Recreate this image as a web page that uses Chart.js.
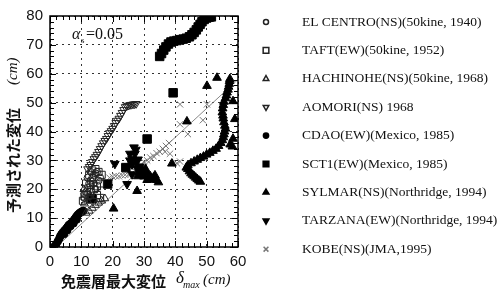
<!DOCTYPE html>
<html>
<head>
<meta charset="utf-8">
<script src="https://cdn.jsdelivr.net/npm/chart.js@4.4.0/dist/chart.umd.min.js"></script>
<style>
  html, body { margin: 0; padding: 0; background: #fff; }
</style>
</head>
<body>
<canvas id="chart" width="500" height="293"></canvas>
<script>
// 予測された変位 vs 免震層最大変位 (αs = 0.05)
const xTicks = [0, 10, 20, 30, 40, 50, 60];
const yTicks = [0, 10, 20, 30, 40, 50, 60, 70, 80];

const elCentro = [[11,17],[11.5,19],[12,20.5],[12.5,22],[13,23],[13.5,24],[14,25],[14.5,25.5],[15,26],[12,24],[13,26],[14,22],[15.5,23],[16,24],[11,18.5],[12.5,17.5],[14.5,20]];
const taft = [[10.5,16],[11,17.5],[12,18],[13,19],[14,20],[15,21],[16,22],[12.5,25],[13.5,26.5],[14.5,27],[15.5,26],[16.5,25],[11.5,22],[13,21.5],[15,18],[16,17]];
const hachinohe = [[11.5,11.8],[12.5,12.5],[13.5,13.5],[14.5,14.5],[15.5,15.3],[16.5,16],[17.5,16.8],[11,15],[12,16],[13,17.5],[10.8,20]];
const aomori = [[12,27],[12.5,27.8],[13,28.5],[13.5,29.5],[14,30.5],[14.5,31.2],[15,32],[15.5,33],[16,34],[16.5,35],[17,36],[17.5,36.8],[18,37.5],[18.5,38.5],[19,39.5],[19.5,40.2],[20,41],[20.5,42],[21,43],[21.5,43.8],[22,44.5],[22.5,45.5],[23,46.5],[23.5,47.5],[24,48.5],[24.5,48.8],[25,49],[25.5,49.2],[26,49.3],[26.5,49.4],[27,49.5],[27.5,49.6]];
const cdao = [[1.5,0.3],[2,1],[2.5,2],[3,3],[3.3,3.8],[3.7,4.5],[4.2,5.2],[4.7,5.8],[5.2,6.4],[5.6,7],[6,7.6],[6.5,8],[7,8.5],[7.4,9],[7.8,9.6],[8.2,10.2],[8.6,10.8],[9,11.3],[9.4,11.7],[9.8,12],[10.2,12.3],[10.6,12.5],[4.5,4.5],[5.5,5.8],[6.5,7.2],[7.5,8.2],[8.5,9.5]];
const sct1 = [[13.4,16.7],[18.4,21.8],[24.2,27.5],[31,37.4],[39.3,53.4],[35,66],[35.6,67],[36.3,68.2],[37,69.3],[37.8,70.3],[38.6,71],[39.5,71.3],[40.5,71.5],[41.5,71.8],[42.5,72],[43.5,72.3],[44.5,72.8],[45.3,73.5],[46,74.3],[46.7,75.2],[47.3,76.2],[47.9,77.1],[48.5,78],[49.2,78.8],[50,79.3],[50.8,79.6],[51.5,79.7]];
const sylmar = [[43.5,27.5],[44,27],[44.5,26.2],[45,25.5],[45.5,25],[46,24.5],[46.5,24],[47,23.5],[47.5,23],[48,22.6],[44,28.3],[45,29],[46,29.6],[47,30.2],[48,30.8],[49,31.3],[50,32],[51,32.6],[52,33.3],[53,34],[53.8,35],[54.5,36],[55,37],[55.3,38],[55.5,39],[55.7,40],[56,41],[55.8,42],[55.5,43.2],[55.3,44.5],[55.2,45.5],[55,46.6],[55.1,48],[55.3,49.2],[55.5,50.3],[56,51.5],[56.3,52.5],[56.5,53.5],[56.8,54.5],[57,55.5],[57.2,56.5],[57.3,57.5],[57.4,58.2],[53.3,58.6],[50.1,55.8],[43.7,43.5],[58.4,50.5],[59,44.3],[58.4,37.5],[58.2,34.8],[57.5,35.5],[38.9,28.9],[27.8,19.4],[20.3,13.3],[28,24.5],[29,25.2],[30,26],[30.5,27],[31,25.5],[32,24.5],[33,24],[34,23.2],[34.6,22.4],[31,23.2],[32.5,23.4],[29.5,26.6],[28.5,25.8],[33.5,24.8],[30,24.4]];
const tarzana = [[20.7,28.8],[24.6,21.8],[25.5,32.3],[26.2,30.6],[27.1,32.3],[27.4,33.7],[28.1,30.3],[26.2,28.6],[27.8,27.2],[24.9,27.9],[28.7,27.9],[26.2,25.2],[27.5,29.5],[25.5,30],[29,25.5],[26.8,34.5]];
const kobe = [[19,24],[20,24.3],[21,24.5],[22,24.5],[23,24.8],[24,25],[25,25],[26,25.5],[27,26.5],[28,27.5],[29,28.5],[30,29.5],[31,30],[32,31],[33,31.5],[34,32.5],[35,33],[36,34],[37,35],[38,36],[36.7,33],[38.3,32.3],[40.5,29],[41.5,29.6],[41.5,42.5],[41.5,49.4],[44,39.1],[48.8,43.9],[50.1,49.4]];
const fitLine = [[2,0],[60,58]];

const toXY = arr => arr.map(p => ({ x: p[0], y: p[1] }));

// r: 図中の大きさ, lr: 凡例の大きさ
const series = [
  { label: 'EL CENTRO(NS)(50kine, 1940)', data: elCentro, style: 'circle', r: 3.5, lr: 2.5, rot: 0, fill: false, color: '#222' },
  { label: 'TAFT(EW)(50kine, 1952)', data: taft, style: 'rect', r: 5, lr: 4, rot: 0, fill: false, color: '#222' },
  { label: 'HACHINOHE(NS)(50kine, 1968)', data: hachinohe, style: 'triangle', r: 4.5, lr: 3.2, rot: 0, fill: false, color: '#222' },
  { label: 'AOMORI(NS) 1968', data: aomori, style: 'triangle', r: 4.5, lr: 3.2, rot: 180, fill: false, color: '#222' },
  { label: 'CDAO(EW)(Mexico, 1985)', data: cdao, style: 'circle', r: 3.8, lr: 2.6, rot: 0, fill: true, color: '#000' },
  { label: 'SCT1(EW)(Mexico, 1985)', data: sct1, style: 'rect', r: 6, lr: 4, rot: 0, fill: true, color: '#000' },
  { label: 'SYLMAR(NS)(Northridge, 1994)', data: sylmar, style: 'triangle', r: 5, lr: 3.4, rot: 0, fill: true, color: '#000' },
  { label: 'TARZANA(EW)(Northridge, 1994)', data: tarzana, style: 'triangle', r: 5, lr: 3.4, rot: 180, fill: true, color: '#000' },
  { label: 'KOBE(NS)(JMA,1995)', data: kobe, style: 'crossRot', r: 4.5, lr: 3.4, rot: 0, fill: false, color: '#777' }
];

const datasets = series.map(s => ({
  type: 'scatter',
  label: s.label,
  data: toXY(s.data),
  pointStyle: s.style,
  pointRadius: s.r,
  pointRotation: s.rot,
  pointBorderWidth: 1,
  borderColor: s.color,
  backgroundColor: s.fill ? s.color : 'rgba(0,0,0,0)'
}));

datasets.push({
  type: 'line',
  label: '',
  data: toXY(fitLine),
  borderColor: '#888',
  borderWidth: 1,
  pointRadius: 0,
  order: 10
});

// 枠、補助目盛、軸タイトル、凡例を描く
const decor = {
  id: 'decor',
  afterDraw(chart) {
    const { ctx, chartArea: a, scales: { x, y } } = chart;
    ctx.save();

    // 補助目盛（内向き）
    ctx.strokeStyle = '#000';
    ctx.lineWidth = 1;
    ctx.beginPath();
    for (let v = 0; v <= 60; v += 2) {
      const px = Math.round(x.getPixelForValue(v)) + 0.5;
      const len = v % 10 === 0 ? 6 : 4;
      ctx.moveTo(px, a.bottom); ctx.lineTo(px, a.bottom - len);
      ctx.moveTo(px, a.top); ctx.lineTo(px, a.top + len);
    }
    for (let v = 0; v <= 80; v += 2) {
      const py = Math.round(y.getPixelForValue(v)) + 0.5;
      const len = v % 10 === 0 ? 6 : 4;
      ctx.moveTo(a.left, py); ctx.lineTo(a.left + len, py);
      ctx.moveTo(a.right, py); ctx.lineTo(a.right - len, py);
    }
    ctx.stroke();

    // 枠
    ctx.lineWidth = 1.5;
    ctx.strokeRect(a.left, a.top, a.right - a.left, a.bottom - a.top);

    // αs = 0.05
    ctx.fillStyle = '#111';
    ctx.textBaseline = 'middle';
    ctx.textAlign = 'left';
    ctx.font = 'italic 16px "Liberation Serif"';
    ctx.fillText('α', 72, 35);
    ctx.font = '9px "Liberation Serif"';
    ctx.fillText('s', 81, 41);
    ctx.font = '16px "Liberation Serif"';
    ctx.fillText('=0.05', 86, 35);

    // x軸タイトル
    ctx.font = 'bold 15px "Noto Sans CJK JP"';
    ctx.fillText('免震層最大変位', 61, 281);
    ctx.font = 'italic 17px "Liberation Serif"';
    ctx.fillText('δ', 176, 279);
    ctx.font = 'italic 10px "Liberation Serif"';
    ctx.fillText('max', 183, 285);
    ctx.font = 'italic 15px "Liberation Serif"';
    ctx.fillText('(cm)', 203, 280);

    // y軸タイトル
    ctx.save();
    ctx.translate(13, 213);
    ctx.rotate(-Math.PI / 2);
    ctx.font = 'bold 15px "Noto Sans CJK JP"';
    ctx.fillText('予測された変位', 0, 0);
    ctx.font = 'italic 15px "Liberation Serif"';
    ctx.fillText('(cm)', 128, 0);
    ctx.restore();

    // 凡例
    series.forEach((s, i) => {
      const ly = 22 + i * 28.4;
      ctx.strokeStyle = s.color;
      ctx.fillStyle = s.fill ? s.color : 'rgba(0,0,0,0)';
      Chart.helpers.drawPoint(ctx, { pointStyle: s.style, radius: s.lr, rotation: s.rot, borderWidth: 1 }, 266, ly);
      ctx.fillStyle = '#111';
      ctx.font = '13.5px "Liberation Serif"';
      ctx.fillText(s.label, 302, ly);
    });

    ctx.restore();
  }
};

new Chart(document.getElementById('chart'), {
  data: { datasets },
  options: {
    responsive: false,
    animation: false,
    devicePixelRatio: 1,
    layout: { padding: { left: 0, top: 12, right: 262, bottom: 0 } },
    plugins: { legend: { display: false }, tooltip: { enabled: false } },
    scales: {
      x: {
        type: 'linear', min: 0, max: 60,
        afterBuildTicks: s => { s.ticks = xTicks.map(v => ({ value: v })); },
        afterFit: s => { s.height = 46; },
        grid: { color: '#333', lineWidth: 1, drawTicks: false },
        border: { display: false, dash: [2, 4] },
        ticks: { color: '#111', padding: 6, font: { family: '"Liberation Sans", Arial', size: 15 } }
      },
      y: {
        type: 'linear', min: 0, max: 80,
        afterBuildTicks: s => { s.ticks = yTicks.map(v => ({ value: v })); },
        afterFit: s => { s.width = 50; },
        grid: { color: '#333', lineWidth: 1, drawTicks: false },
        border: { display: false, dash: [2, 4] },
        ticks: { color: '#111', padding: 7, font: { family: '"Liberation Sans", Arial', size: 15 } }
      }
    }
  },
  plugins: [decor]
});
</script>
</body>
</html>
